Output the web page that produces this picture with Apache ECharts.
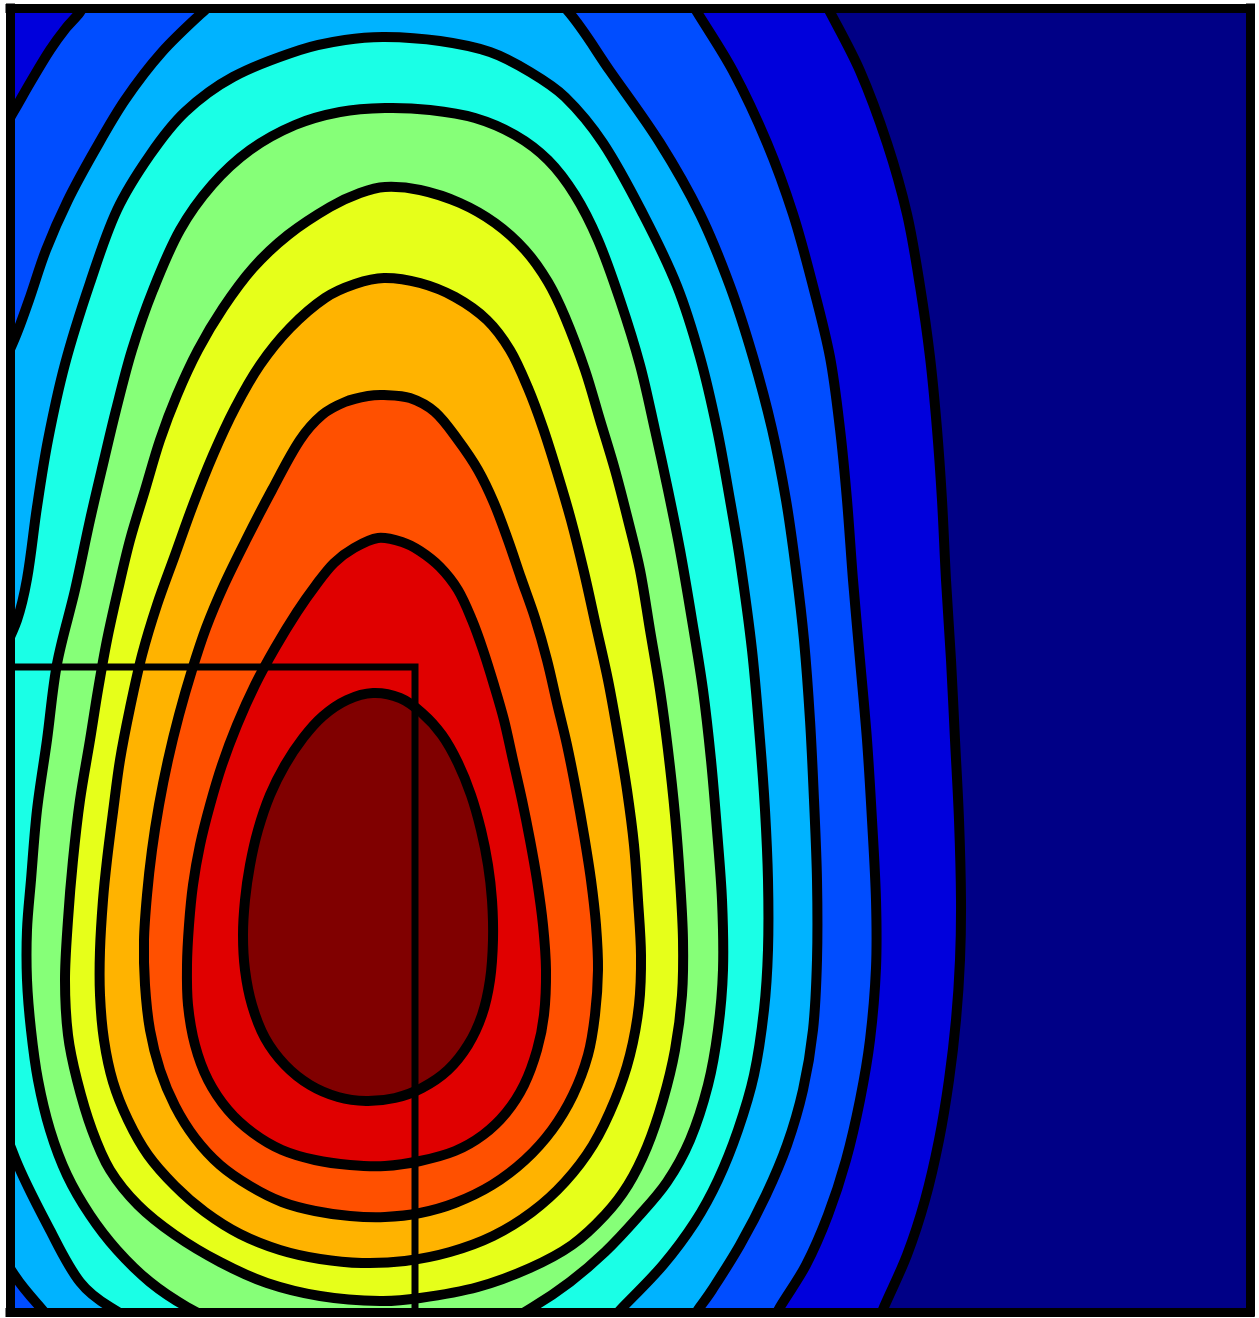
<!DOCTYPE html>
<html>
<head>
<meta charset="utf-8">
<script src="https://cdn.jsdelivr.net/npm/echarts@6/dist/echarts.min.js"></script>
<style>
html,body{margin:0;padding:0;background:#ffffff;}
#chart{width:1259px;height:1318px;}
</style>
</head>
<body>
<div id="chart"></div>
<script>
// Plot extent (data units)
const xExtent = [10, 1250];
const yExtent = [8, 1312];

// Contour levels (outermost to innermost)
const levels = [1, 2, 3, 4, 5, 6, 7, 8, 9, 10];

// Contour outlines, [x, y] in data units, closed loops (parts beyond the frame are clipped away)
const contour1 = [[802,-40],[830,12],[860,71],[887,143],[907,214],[920,286],[930,357],[937,429],[942,500],[946,580],[951,660],[955,740],[959,820],[961,900],[960,960],[956,1020],[949,1080],[939,1140],[925,1200],[907,1255],[884,1307],[868,1345],[780,1400],[400,1420],[-100,1400],[-100,700],[-100,-150],[400,-160],[700,-150],[775,-100]];
const contour2 = [[697,12],[733,71],[767,143],[793,214],[813,286],[830,357],[840,429],[847,500],[853,580],[860,660],[867,740],[872,820],[876,900],[876,968],[870,1040],[860,1100],[846,1160],[828,1215],[806,1265],[780,1307],[755,1350],[600,1420],[300,1440],[0,1400],[-80,1200],[-100,800],[-80,400],[-30,200],[10,118],[18,104],[30,83],[50,50],[66,28],[80,12],[100,-20],[150,-70],[250,-110],[385,-125],[520,-110],[620,-70],[668,-35]];
const contour3 = [[567,10],[610,71],[660,143],[700,214],[730,286],[753,357],[772,429],[786,500],[796,570],[804,640],[810,720],[814,800],[817,880],[817,960],[813,1030],[803,1090],[787,1145],[766,1195],[740,1245],[712,1290],[700,1307],[680,1335],[600,1400],[400,1430],[200,1410],[80,1350],[40,1307],[15,1276],[-10,1230],[-40,1100],[-60,800],[-40,550],[-10,400],[17,333],[29,300],[46,250],[68,200],[95,150],[125,100],[162,52],[205,10],[240,-20],[300,-45],[385,-55],[470,-45],[530,-20]];
const contour4 = [[385,37],[440,41],[490,52],[530,72],[565,97],[603,143],[643,214],[677,286],[700,357],[717,429],[730,500],[740,560],[752,650],[760,740],[765,810],[768,880],[768,950],[764,1010],[754,1075],[738,1130],[718,1180],[695,1222],[663,1265],[623,1307],[590,1340],[500,1375],[350,1380],[200,1355],[110,1307],[80,1282],[50,1230],[15,1158],[-10,1080],[-30,900],[-15,700],[17,620],[27,579],[37,507],[48,440],[65,364],[90,283],[117,210],[150,155],[185,112],[233,77],[300,50],[345,40]];
const contour5 = [[385,108],[430,110],[475,118],[515,135],[548,160],[575,195],[598,240],[620,300],[640,365],[655,430],[668,490],[680,550],[692,620],[703,690],[711,760],[717,830],[722,900],[723,970],[718,1030],[708,1085],[690,1140],[667,1182],[638,1217],[605,1252],[570,1282],[533,1307],[490,1330],[420,1345],[350,1345],[280,1335],[220,1322],[187,1307],[150,1282],[117,1250],[90,1215],[67,1175],[50,1130],[38,1080],[31,1030],[27,980],[27,930],[31,880],[37,810],[47,740],[57,664],[75,590],[90,520],[104,460],[116,410],[132,350],[153,290],[180,230],[212,185],[250,150],[295,125],[340,112]];
const contour6 = [[385,187],[420,190],[460,203],[495,223],[525,250],[548,282],[565,317],[585,370],[600,420],[615,470],[628,520],[640,570],[650,630],[660,690],[668,750],[675,815],[680,880],[683,940],[682,995],[675,1050],[663,1100],[647,1147],[628,1185],[605,1215],[572,1245],[530,1268],[478,1287],[420,1298],[380,1301],[320,1296],[267,1283],[220,1262],[175,1235],[138,1205],[110,1170],[92,1130],[77,1080],[68,1035],[65,980],[68,920],[73,860],[80,800],[90,740],[98,690],[107,640],[118,590],[130,540],[145,490],[160,440],[177,395],[198,350],[223,308],[253,268],[288,235],[330,207],[360,193]];
const contour7 = [[384,278],[420,283],[455,297],[487,320],[510,350],[528,388],[543,428],[557,472],[571,520],[584,572],[596,626],[608,680],[618,735],[627,790],[634,845],[638,900],[641,955],[639,1005],[630,1055],[615,1100],[593,1145],[565,1182],[532,1212],[493,1236],[450,1252],[405,1261],[362,1263],[320,1259],[280,1250],[240,1234],[205,1212],[175,1186],[148,1155],[128,1120],[113,1082],[104,1040],[100,995],[100,950],[103,900],[107,860],[113,812],[120,760],[130,708],[142,655],[157,605],[175,555],[193,505],[213,455],[235,408],[260,365],[290,328],[325,298],[355,284]];
const contour8 = [[384,395],[410,398],[435,412],[458,440],[478,470],[494,503],[508,540],[521,578],[535,618],[547,660],[557,703],[567,745],[576,790],[584,835],[591,880],[596,925],[598,970],[595,1015],[588,1055],[573,1095],[552,1130],[525,1160],[492,1185],[455,1203],[420,1213],[385,1217],[350,1216],[315,1211],[282,1202],[250,1186],[220,1165],[195,1138],[175,1106],[160,1070],[150,1030],[145,985],[144,940],[147,895],[152,850],[159,805],[168,760],[179,715],[192,670],[206,628],[224,585],[246,540],[272,490],[300,440],[322,415],[345,402],[368,396]];
const contour9 = [[378,538],[402,542],[420,551],[440,567],[458,590],[472,620],[483,650],[494,685],[504,720],[513,760],[522,800],[530,840],[537,880],[543,925],[546,970],[544,1015],[537,1050],[524,1085],[506,1113],[483,1135],[455,1151],[420,1161],[385,1166],[350,1165],[315,1160],[282,1150],[253,1133],[228,1110],[208,1080],[195,1045],[188,1005],[187,965],[189,925],[193,885],[200,845],[210,805],[222,765],[237,725],[255,685],[275,648],[297,612],[316,585],[334,563],[354,548]];
const contour10 = [[373,693],[400,698],[422,713],[442,735],[458,763],[471,795],[481,830],[488,865],[492,900],[493,940],[490,980],[482,1015],[468,1045],[448,1070],[422,1088],[395,1098],[366,1101],[338,1097],[310,1085],[285,1065],[265,1038],[252,1005],[245,970],[243,935],[245,900],[250,865],[258,830],[270,795],[285,765],[303,738],[323,716],[347,700]];

// Annotation path (horizontal then vertical)
const boxPath = [[10,667],[415,667],[415,1312]];

const contours = [contour1, contour2, contour3, contour4, contour5, contour6, contour7, contour8, contour9, contour10];

// jet colours: background (below the first level) then the fill of each level
const backgroundColor = '#000086';
const levelColors = ['#0000dc','#004dff','#00b3ff','#1affe6','#86ff78','#e6ff1a','#ffb300','#ff5000','#e00000','#800000'];

const chart = echarts.init(document.getElementById('chart'), null, {renderer: 'canvas'});

const frameLine = {show: true, onZero: false, lineStyle: {color: '#000', width: 9, cap: 'square'}};
function axis(extra) {
  return Object.assign({
    type: 'value', z: 20,
    axisLine: frameLine,
    axisTick: {show: false}, axisLabel: {show: false}, splitLine: {show: false}
  }, extra);
}

chart.setOption({
  animation: false,
  grid: {left: 10, right: 9, top: 8, bottom: 6, show: true, backgroundColor: backgroundColor, borderWidth: 0},
  xAxis: [
    axis({min: xExtent[0], max: xExtent[1], position: 'bottom'}),
    axis({min: xExtent[0], max: xExtent[1], position: 'top'})
  ],
  yAxis: [
    axis({min: yExtent[0], max: yExtent[1], inverse: true, position: 'left'}),
    axis({min: yExtent[0], max: yExtent[1], inverse: true, position: 'right'})
  ],
  series: [
    {
      type: 'custom',
      xAxisIndex: 0, yAxisIndex: 0,
      clip: true,
      silent: true,
      data: levels.map(function (lv, i) { return [i, lv]; }),
      encode: {x: -1, y: -1},
      renderItem: function (params, api) {
        const idx = params.dataIndex;
        const pts = contours[idx].map(function (p) { return api.coord(p); });
        return {
          type: 'polygon',
          shape: {points: pts, smooth: 0.33},
          style: {fill: levelColors[idx], stroke: '#000', lineWidth: 10, lineJoin: 'round'}
        };
      }
    },
    {
      type: 'line',
      xAxisIndex: 0, yAxisIndex: 0,
      data: boxPath,
      symbol: 'none',
      silent: true,
      z: 5,
      lineStyle: {color: '#000', width: 7, cap: 'butt', join: 'miter'}
    }
  ]
});
</script>
</body>
</html>
